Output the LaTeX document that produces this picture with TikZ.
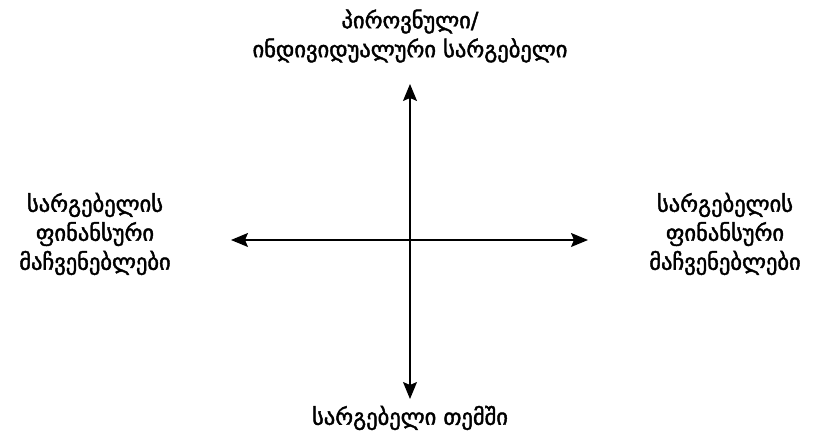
\documentclass[tikz,border=0pt]{standalone}
\usepackage{fontspec}
\setmainfont{DejaVu Sans}[FakeBold=1.8]
\usetikzlibrary{arrows.meta}
\begin{document}
\begin{tikzpicture}[x=1pt,y=1pt,
  axis/.style={line width=1.3pt,-{Stealth[length=17pt,width=14pt,inset=3pt]}},
  lbl/.style={align=center,font=\fontsize{22.5}{29}\selectfont,inner sep=0pt}]
\useasboundingbox (0,0) rectangle (815,438);
\coordinate (c) at (410,198);
\coordinate (t) at (410,354);
\coordinate (b) at (410,39);
\coordinate (l) at (231,198);
\coordinate (r) at (588,198);
\draw[axis] (c) -- (t);
\draw[axis] (c) -- (b);
\draw[axis] (c) -- (l);
\draw[axis] (c) -- (r);
\node[lbl] (top) at (410,402) {პიროვნული/\\ინდივიდუალური სარგებელი};
\node[lbl] (left) at (95,204) {სარგებელის\\ფინანსური\\მაჩვენებლები};
\node[lbl] (right) at (725,204) {სარგებელის\\ფინანსური\\მაჩვენებლები};
\node[lbl] (bot) at (410,20) {სარგებელი თემში};
\end{tikzpicture}
\end{document}
